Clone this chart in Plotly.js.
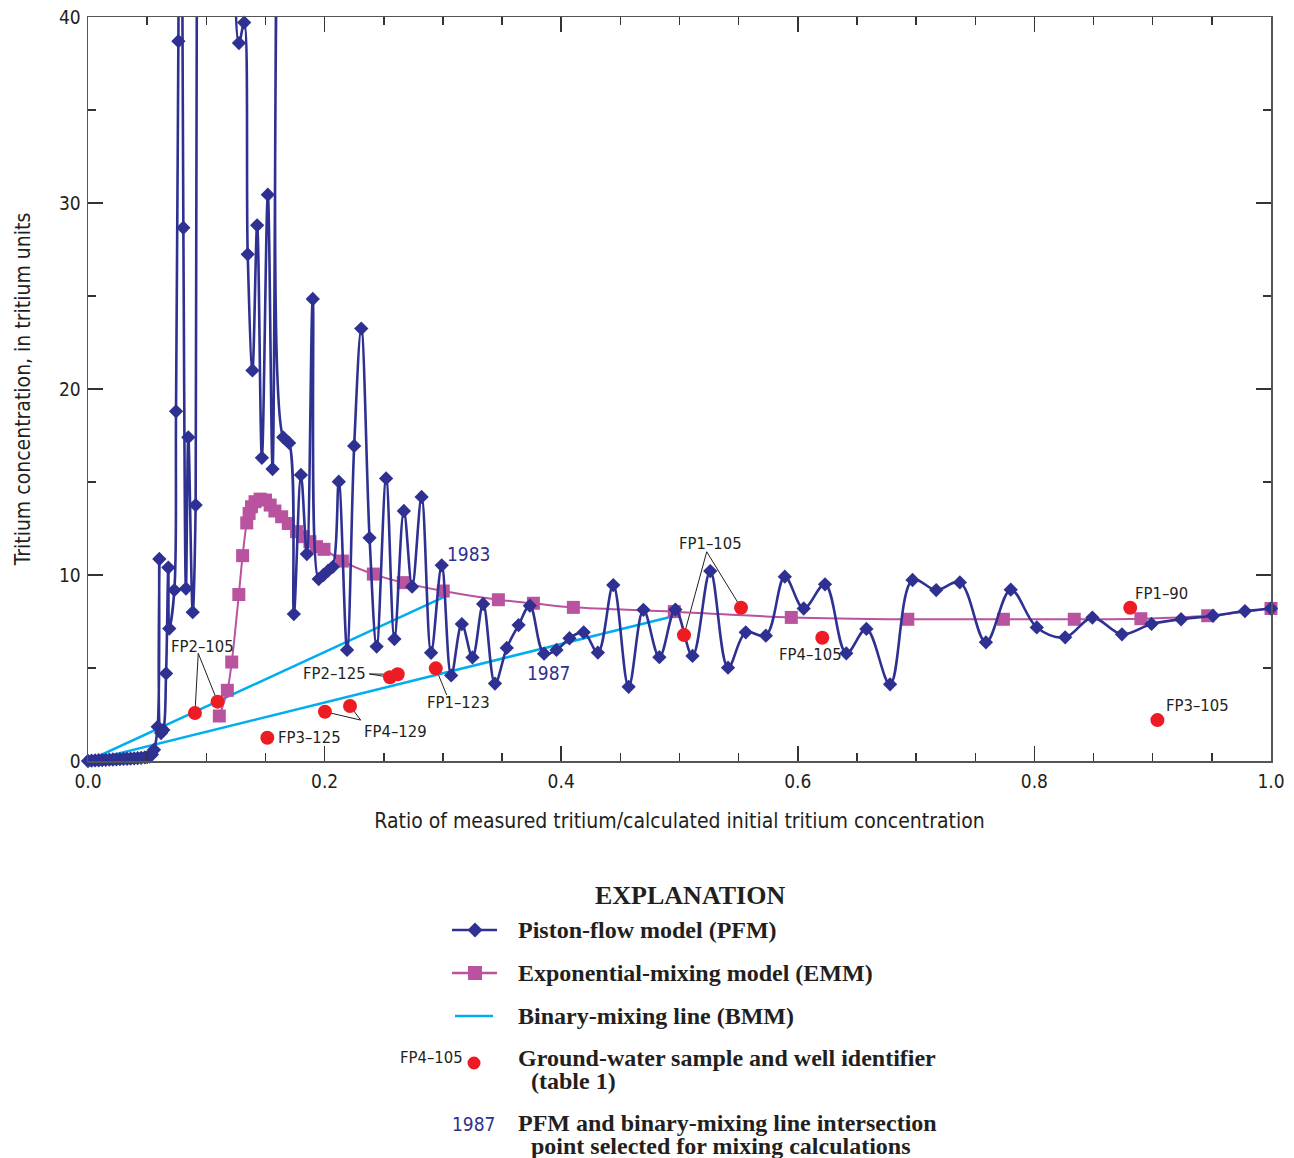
<!DOCTYPE html>
<html>
<head>
<meta charset="utf-8">
<script src="https://cdn.plot.ly/plotly-3.0.1.min.js"></script>
<style>
  html, body { margin: 0; padding: 0; background: #ffffff; }
  #chart { width: 1294px; height: 1158px; }
</style>
</head>
<body>
<div id="chart"></div>
<script>
// Piston-flow model (PFM): ratio of measured / initial tritium vs tritium (TU)
const pfmRatio = [
  0.000, 0.003, 0.006, 0.009, 0.012, 0.015, 0.018, 0.021, 0.024, 0.027,
  0.030, 0.033, 0.036, 0.039, 0.042, 0.045, 0.048, 0.050, 0.052, 0.054,
  0.0558, 0.0589, 0.0603, 0.0618, 0.0637, 0.0660, 0.0679, 0.0687, 0.0730, 0.0744,
  0.0764, 0.0782, 0.0806, 0.0828, 0.0848, 0.0885, 0.0910, 0.0935, 0.1000, 0.1080,
  0.1160, 0.1255, 0.1276, 0.1320, 0.1350, 0.1390, 0.1430, 0.1470, 0.1520, 0.1560,
  0.1603, 0.1650, 0.1700, 0.1740, 0.1800, 0.1850, 0.1900, 0.1950, 0.1990, 0.2030,
  0.2070, 0.2120, 0.2190, 0.2250, 0.2310, 0.2380, 0.2440, 0.2520, 0.2590, 0.2670,
  0.2740, 0.2820, 0.2900, 0.2990, 0.3070, 0.3160, 0.3250, 0.3340, 0.3440, 0.3540,
  0.3640, 0.3735, 0.3855, 0.3960, 0.4070, 0.4190, 0.4310, 0.4440, 0.4570, 0.4695,
  0.4830, 0.4965, 0.5110, 0.5260, 0.5410, 0.5560, 0.5730, 0.5890, 0.6050, 0.6230,
  0.6410, 0.6580, 0.6780, 0.6970, 0.7170, 0.7370, 0.7590, 0.7800, 0.8020, 0.8260,
  0.8490, 0.8740, 0.8990, 0.9240, 0.9510, 0.9780, 1.0000
];
const pfmTritium = [
  0.00, 0.02, 0.03, 0.04, 0.05, 0.06, 0.07, 0.08, 0.09, 0.10,
  0.11, 0.12, 0.13, 0.14, 0.15, 0.17, 0.19, 0.21, 0.24, 0.35,
  0.60, 1.84, 10.86, 1.50, 1.67, 4.71, 10.40, 7.12, 9.19, 18.80,
  38.70, 60.0, 28.67, 9.27, 17.40, 8.00, 13.76, 90.0, 150.0, 190.0,
  140.0, 80.0, 38.60, 39.70, 27.24, 21.00, 28.80, 16.30, 30.45, 15.70,
  50.0, 17.40, 17.10, 7.90, 15.38, 11.13, 24.84, 9.78, 10.00, 10.23,
  10.44, 15.02, 5.97, 16.94, 23.25, 12.00, 6.15, 15.19, 6.56, 13.44,
  9.37, 14.20, 5.82, 10.52, 4.60, 7.36, 5.57, 8.44, 4.16, 6.08,
  7.31, 8.35, 5.77, 5.97, 6.60, 6.92, 5.83, 9.46, 3.99, 8.13,
  5.58, 8.14, 5.65, 10.21, 5.02, 6.92, 6.74, 9.91, 8.20, 9.50,
  5.79, 7.10, 4.12, 9.73, 9.19, 9.60, 6.38, 9.21, 7.18, 6.65,
  7.71, 6.81, 7.37, 7.62, 7.81, 8.06, 8.20
];

// Exponential-mixing model (EMM)
const emmRatio = [
  0.1110, 0.1178, 0.1215, 0.1275, 0.1307, 0.1342, 0.1362, 0.1382, 0.1412, 0.1455,
  0.1500, 0.1540, 0.1580, 0.1637, 0.1693, 0.1763, 0.1820, 0.1876, 0.1932, 0.1995,
  0.2150, 0.2412, 0.2665, 0.3003, 0.3469, 0.3765, 0.4103, 0.4956, 0.5945, 0.6930,
  0.7738, 0.8337, 0.8900, 0.9465, 1.0000
];
const emmTritium = [
  2.42, 3.80, 5.32, 8.95, 11.04, 12.80, 13.31, 13.67, 13.94, 14.08,
  14.03, 13.76, 13.44, 13.13, 12.77, 12.33, 12.06, 11.79, 11.52, 11.38,
  10.75, 10.05, 9.59, 9.14, 8.67, 8.48, 8.26, 8.03, 7.72, 7.62,
  7.62, 7.62, 7.65, 7.81, 8.20
];

// Binary-mixing lines (BMM), old water end member to the selected PFM intersection
const bmmYears = ['1983', '1987'];
const bmmRatio = [[0, 0.302], [0, 0.499]];
const bmmTritium = [[0, 8.85], [0, 7.85]];

// Ground-water samples (table 1)
const sampleIds = ['FP2–105', 'FP2–105', 'FP3–125', 'FP4–129', 'FP4–129', 'FP2–125', 'FP2–125',
                   'FP1–123', 'FP1–105', 'FP1–105', 'FP4–105', 'FP1–90', 'FP3–105'];
const sampleRatio = [0.0904, 0.1095, 0.1516, 0.2003, 0.2215, 0.2553, 0.2618,
                     0.2940, 0.5038, 0.5520, 0.6207, 0.8810, 0.9040];
const sampleTritium = [2.58, 3.19, 1.25, 2.65, 2.96, 4.50, 4.66,
                       4.98, 6.77, 8.24, 6.63, 8.24, 2.20];

// Axis tick labels
const xTickVals = [0, 0.2, 0.4, 0.6, 0.8, 1.0];
const xTickText = ['0.0', '0.2', '0.4', '0.6', '0.8', '1.0'];
const yTickVals = [0, 10, 20, 30, 40];
const yTickText = ['0', '10', '20', '30', '40'];

// ---- styling ----
const NAVY = '#2E3192', MAGENTA = '#B9529F', CYAN = '#00AEEF', RED = '#ED1C24', INK = '#231F20';
const NARROW = '"Liberation Sans Narrow", "DejaVu Sans Condensed", "Arial Narrow", sans-serif';
const SERIF = '"Liberation Serif", "Times New Roman", serif';

// plot-area geometry in page pixels, for placing the explanation block
const PL = 88, PR = 1271, PT = 17, PB = 761;
const xp = px => (px - PL) / (PR - PL);
const yp = py => (PB - py) / (PB - PT);

// label placement for sample identifiers (data coordinates)
const labelPlacement = {
  'FP2–105': { x: 0.0964, y: 6.18, anchor: 'center', leader: [0.0932, 5.79] },
  'FP3–125': { x: 0.1590, y: 1.24, anchor: 'left' },
  'FP4–129': { x: 0.2314, y: 1.575, anchor: 'left', leader: [0.2305, 2.20] },
  'FP2–125': { x: 0.2367, y: 4.73, anchor: 'right', leader: [0.2378, 4.68] },
  'FP1–123': { x: 0.3128, y: 3.17, anchor: 'center', leader: [0.3032, 3.55] },
  'FP1–105': { x: 0.5258, y: 11.72, anchor: 'center', leader: [0.5230, 11.25] },
  'FP4–105': { x: 0.5824, y: 5.70, anchor: 'left' },
  'FP1–90':  { x: 0.8834, y: 8.98, anchor: 'left' },
  'FP3–105': { x: 0.9096, y: 2.96, anchor: 'left' }
};
const yearPlacement = { '1983': { x: 0.3018, y: 11.13 }, '1987': { x: 0.3694, y: 4.73 } };

const traces = [];
bmmYears.forEach((yr, i) => {
  traces.push({
    type: 'scatter', mode: 'lines', x: bmmRatio[i], y: bmmTritium[i],
    line: { color: CYAN, width: 2.5 }, showlegend: false, hoverinfo: 'skip'
  });
});
traces.push({
  type: 'scatter', mode: 'lines+markers', x: emmRatio, y: emmTritium,
  line: { color: MAGENTA, width: 2, shape: 'spline', smoothing: 1 },
  marker: { symbol: 'square', size: 13, color: MAGENTA },
  cliponaxis: false, showlegend: false
});
traces.push({
  type: 'scatter', mode: 'lines+markers', x: pfmRatio, y: pfmTritium,
  line: { color: NAVY, width: 2.6, shape: 'spline', smoothing: 1 },
  marker: { symbol: 'diamond', size: 11, color: NAVY },
  cliponaxis: false, showlegend: false
});
traces.push({
  type: 'scatter', mode: 'markers', x: sampleRatio, y: sampleTritium,
  marker: { symbol: 'circle', size: 14, color: RED },
  cliponaxis: false, showlegend: false
});

const shapes = [];
const annotations = [];

// sample labels and leader lines
const seen = {};
sampleIds.forEach((id, i) => {
  const p = labelPlacement[id];
  if (p.leader) {
    shapes.push({
      type: 'line', xref: 'x', yref: 'y', layer: 'below',
      x0: p.leader[0], y0: p.leader[1], x1: sampleRatio[i], y1: sampleTritium[i],
      line: { color: INK, width: 1 }
    });
  }
  if (!seen[id]) {
    seen[id] = true;
    annotations.push({
      xref: 'x', yref: 'y', x: p.x, y: p.y, text: id, showarrow: false,
      xanchor: p.anchor, yanchor: 'middle',
      font: { family: NARROW, size: 16.5, color: INK }
    });
  }
});
bmmYears.forEach(yr => {
  const p = yearPlacement[yr];
  annotations.push({
    xref: 'x', yref: 'y', x: p.x, y: p.y, text: yr, showarrow: false,
    xanchor: 'left', yanchor: 'middle',
    font: { family: NARROW, size: 19, color: NAVY }
  });
});

// explanation block
const legendFont = { family: SERIF, size: 24, color: INK };
annotations.push({
  xref: 'paper', yref: 'paper', x: xp(690), y: yp(895), text: '<b>EXPLANATION</b>',
  showarrow: false, xanchor: 'center', yanchor: 'middle',
  font: { family: SERIF, size: 26, color: INK }
});
const legendRows = [
  { py: 930, text: '<b>Piston-flow model (PFM)</b>' },
  { py: 973, text: '<b>Exponential-mixing model (EMM)</b>' },
  { py: 1016, text: '<b>Binary-mixing line (BMM)</b>' },
  { py: 1058, text: '<b>Ground-water sample and well identifier</b>' },
  { py: 1081, text: '<b>(table 1)</b>', px: 529 },
  { py: 1123, text: '<b>PFM and binary-mixing line intersection</b>' },
  { py: 1146, text: '<b>point selected for mixing calculations</b>', px: 529 }
];
legendRows.forEach(r => {
  annotations.push({
    xref: 'paper', yref: 'paper', x: xp(r.px || 516), y: yp(r.py), text: r.text,
    showarrow: false, xanchor: 'left', yanchor: 'middle', font: legendFont
  });
});
annotations.push({
  xref: 'paper', yref: 'paper', x: xp(465), y: yp(1057), text: 'FP4–105',
  showarrow: false, xanchor: 'right', yanchor: 'middle',
  font: { family: NARROW, size: 16.5, color: INK }
});
annotations.push({
  xref: 'paper', yref: 'paper', x: xp(474), y: yp(1124), text: '1987',
  showarrow: false, xanchor: 'center', yanchor: 'middle',
  font: { family: NARROW, size: 19, color: NAVY }
});

// legend keys
const keyLine = (x0, x1, py, color) => ({
  type: 'line', xref: 'paper', yref: 'paper', x0: xp(x0), x1: xp(x1), y0: yp(py), y1: yp(py),
  line: { color: color, width: 2.6 }
});
shapes.push(keyLine(452, 497, 930, NAVY));
shapes.push({
  type: 'path', xref: 'paper', yref: 'paper', fillcolor: NAVY, line: { width: 0 },
  path: `M ${xp(475)},${yp(922.5)} L ${xp(482.5)},${yp(930)} L ${xp(475)},${yp(937.5)} L ${xp(467.5)},${yp(930)} Z`
});
shapes.push(keyLine(452, 497, 973, MAGENTA));
shapes.push({
  type: 'rect', xref: 'paper', yref: 'paper', fillcolor: MAGENTA, line: { width: 0 },
  x0: xp(468), x1: xp(482), y0: yp(966), y1: yp(980)
});
shapes.push(keyLine(455, 493, 1016, CYAN));
shapes.push({
  type: 'circle', xref: 'paper', yref: 'paper', fillcolor: RED, line: { width: 0 },
  x0: xp(467.5), x1: xp(480.5), y0: yp(1056.5), y1: yp(1069.5)
});

const axisCommon = {
  showgrid: false, zeroline: false, showline: true, linecolor: '#555555', linewidth: 1.5,
  mirror: 'ticks', ticks: 'inside', ticklen: 15, tickwidth: 1.5, tickcolor: '#333333',
  tickfont: { family: NARROW, size: 19, color: INK }
};

const layout = {
  width: 1294, height: 1158,
  margin: { l: PL, r: 1294 - PR, t: PT, b: 1158 - PB },
  paper_bgcolor: '#ffffff', plot_bgcolor: '#ffffff',
  showlegend: false,
  xaxis: Object.assign({}, axisCommon, {
    range: [0, 1], tickmode: 'array', tickvals: xTickVals, ticktext: xTickText,
    ticklabelstandoff: 3,
    minor: { dtick: 0.05, tick0: 0, ticks: 'inside', ticklen: 8, tickwidth: 1.5, tickcolor: '#333333' },
    title: { text: 'Ratio of measured tritium/calculated initial tritium concentration',
             font: { family: NARROW, size: 21, color: INK }, standoff: 22 }
  }),
  yaxis: Object.assign({}, axisCommon, {
    range: [0, 40], tickmode: 'array', tickvals: yTickVals, ticktext: yTickText,
    ticklabelstandoff: 2,
    minor: { dtick: 5, tick0: 0, ticks: 'inside', ticklen: 8, tickwidth: 1.5, tickcolor: '#333333' },
    title: { text: 'Tritium concentration, in tritium units',
             font: { family: NARROW, size: 21, color: INK }, standoff: 22 }
  }),
  shapes: shapes,
  annotations: annotations
};

Plotly.newPlot('chart', traces, layout, { displayModeBar: false, staticPlot: true });
</script>
</body>
</html>
